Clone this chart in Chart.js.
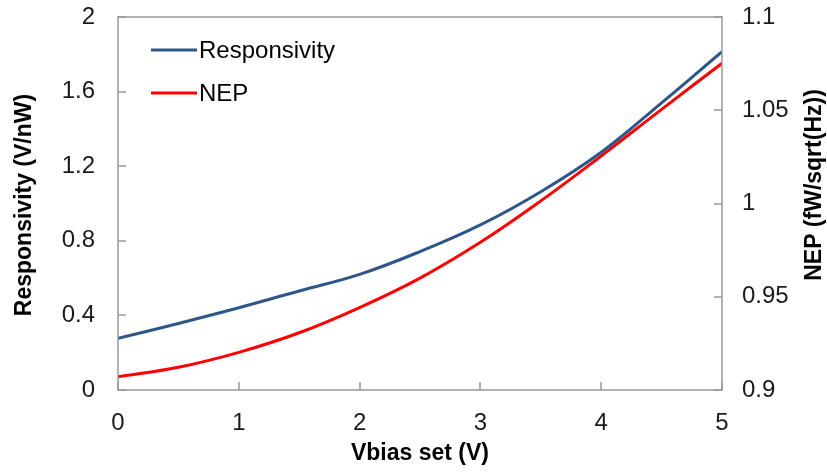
<!DOCTYPE html>
<html>
<head>
<meta charset="utf-8">
<script src="https://cdn.jsdelivr.net/npm/chart.js@4.4.1/dist/chart.umd.min.js"></script>
<style>
    html, body { margin: 0; padding: 0; background: #fff; }
    #wrap { width: 827px; height: 472px; }
</style>
</head>
<body>
<div id="wrap"><canvas id="chart" width="827" height="472"></canvas></div>
<script>
// Values
const vbias = [0, 0.5, 1, 1.5, 2, 2.5, 3, 3.5, 4, 4.5, 5];
const responsivity = [0.277, 0.357, 0.441, 0.531, 0.62, 0.742, 0.885, 1.063, 1.275, 1.54, 1.814];
const nep = [0.9071, 0.9122, 0.9202, 0.9307, 0.9442, 0.9600, 0.9792, 1.0014, 1.0255, 1.0505, 1.0752];

const leftTicks = [0, 0.4, 0.8, 1.2, 1.6, 2];
const rightTicks = [0.9, 0.95, 1, 1.05, 1.1];
const xTicks = [0, 1, 2, 3, 4, 5];

const FONT = "'Liberation Sans', Arial, sans-serif";
const AXIS_COLOR = "#999999";

// Inward tick marks, box border, rotated y titles and the legend
const decorations = {
    id: "decorations",
    afterDatasetsDraw(chart) {
        const { ctx, chartArea: a, scales } = chart;
        ctx.save();
        ctx.strokeStyle = AXIS_COLOR;
        ctx.lineWidth = 1.5;
        ctx.strokeRect(a.left, a.top, a.right - a.left, a.bottom - a.top);

        ctx.beginPath();
        leftTicks.forEach((v) => {
            const y = Math.round(scales.y.getPixelForValue(v));
            ctx.moveTo(a.left, y);
            ctx.lineTo(a.left + 8, y);
        });
        rightTicks.forEach((v) => {
            const y = Math.round(scales.y2.getPixelForValue(v));
            ctx.moveTo(a.right, y);
            ctx.lineTo(a.right - 8, y);
        });
        xTicks.forEach((v) => {
            const x = Math.round(scales.x.getPixelForValue(v));
            ctx.moveTo(x, a.bottom);
            ctx.lineTo(x, a.bottom - 8);
        });
        ctx.stroke();

        // y axis titles, both reading bottom to top
        ctx.fillStyle = "#000";
        ctx.font = "bold 23px " + FONT;
        ctx.textAlign = "center";
        ctx.textBaseline = "middle";
        ctx.save();
        ctx.translate(25, 205);
        ctx.rotate(-Math.PI / 2);
        ctx.fillText("Responsivity (V/nW)", 0, 0);
        ctx.restore();
        ctx.save();
        ctx.translate(815, 185);
        ctx.rotate(-Math.PI / 2);
        ctx.fillText("NEP (fW/sqrt(Hz))", 0, 0);
        ctx.restore();

        // legend
        ctx.font = "24px " + FONT;
        ctx.textAlign = "left";
        chart.data.datasets.forEach((ds, i) => {
            const y = 50 + i * 43;
            ctx.strokeStyle = ds.borderColor;
            ctx.lineWidth = 3;
            ctx.beginPath();
            ctx.moveTo(151, y);
            ctx.lineTo(197, y);
            ctx.stroke();
            ctx.fillStyle = "#000";
            ctx.fillText(ds.label, 199, y + 1);
        });
        ctx.restore();
    },
};

const tickFont = { family: FONT, size: 24 };
const plainLabel = (v) => String(+v.toFixed(2));
const fitY = (width) => (s) => {
    s.width = width;
    s.paddingTop = 0;
    s.paddingBottom = 0;
};

new Chart(document.getElementById("chart"), {
    type: "line",
    data: {
        datasets: [
            {
                label: "Responsivity",
                data: vbias.map((v, i) => ({ x: v, y: responsivity[i] })),
                borderColor: "#2e5689",
                borderWidth: 3,
                pointRadius: 0,
                tension: 0.4,
                yAxisID: "y",
            },
            {
                label: "NEP",
                data: vbias.map((v, i) => ({ x: v, y: nep[i] })),
                borderColor: "#ff0000",
                borderWidth: 3,
                pointRadius: 0,
                tension: 0.4,
                yAxisID: "y2",
            },
        ],
    },
    options: {
        responsive: false,
        animation: false,
        layout: { padding: { top: 17, left: 0, right: 0, bottom: 0 } },
        plugins: {
            legend: { display: false },
            tooltip: { enabled: false },
        },
        scales: {
            x: {
                type: "linear",
                min: 0,
                max: 5,
                afterBuildTicks: (s) => { s.ticks = xTicks.map((v) => ({ value: v })); },
                afterFit: (s) => { s.height = 82; },
                grid: { display: false },
                border: { display: false },
                ticks: { color: "#1a1a1a", font: tickFont, padding: 11, callback: plainLabel },
                title: {
                    display: true,
                    text: "Vbias set (V)",
                    color: "#000",
                    font: { family: FONT, size: 23, weight: "bold" },
                    padding: { top: 2, bottom: 5 },
                },
            },
            y: {
                position: "left",
                min: 0,
                max: 2,
                afterBuildTicks: (s) => { s.ticks = leftTicks.map((v) => ({ value: v })); },
                afterFit: fitY(118),
                grid: { display: false },
                border: { display: false },
                ticks: { color: "#1a1a1a", font: tickFont, padding: 15, callback: plainLabel },
            },
            y2: {
                position: "right",
                min: 0.9,
                max: 1.1,
                afterBuildTicks: (s) => { s.ticks = rightTicks.map((v) => ({ value: v })); },
                afterFit: fitY(105),
                grid: { display: false },
                border: { display: false },
                ticks: { color: "#1a1a1a", font: tickFont, padding: 12, callback: plainLabel },
            },
        },
    },
    plugins: [decorations],
});
</script>
</body>
</html>
